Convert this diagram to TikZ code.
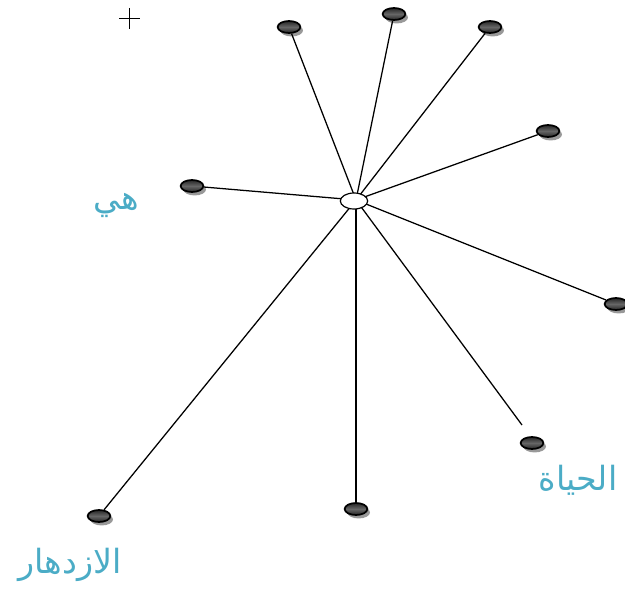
\documentclass[tikz,border=0pt]{standalone}
\usepackage{fontspec}
\newfontfamily\arabicfont[Script=Arabic]{DejaVu Sans}
\TeXXeTstate=1
\usetikzlibrary{shapes.geometric,shadows}
\definecolor{labelblue}{RGB}{75,172,198}
\tikzset{
  px/.style={x=0.75pt,y=-0.75pt},
  dot/.style={ellipse,draw=black,line width=1.3pt,minimum width=17pt,minimum height=9pt,inner sep=0pt,
    top color=black!85,bottom color=black!85,middle color=black!60,
    drop shadow={shadow xshift=2pt,shadow yshift=-2.6pt,fill=black!40,opacity=1}},
  hub/.style={ellipse,draw=black,line width=0.9pt,fill=white,minimum width=20.5pt,minimum height=12pt,inner sep=0pt},
  spoke/.style={draw=black,line width=0.95pt},
  arlabel/.style={text=labelblue,font=\arabicfont\fontsize{25pt}{28pt}\selectfont,inner sep=0pt},
}
\begin{document}
\begin{tikzpicture}[px]
\useasboundingbox (0,0) rectangle (625,592);
% cross marker
\draw[line width=0.7pt] (119,18) -- (140,18) (129,8) -- (129,29);
% outer dots
\node[dot] (n1) at (289,27) {};
\node[dot] (n2) at (394,14) {};
\node[dot] (n3) at (490,27) {};
\node[dot] (n4) at (548,131) {};
\node[dot] (n5) at (616,304) {};
\node[dot] (n6) at (532,443) {};
\node[dot] (n7) at (356,509) {};
\node[dot] (n8) at (99,516) {};
\node[dot] (n9) at (192,186) {};
\coordinate (e6) at (522,425);
\coordinate (hc) at (356,200);
% spokes
\foreach \t in {n1,n2,n3,n4,n5,n7,n8,n9} \draw[spoke] (hc) -- (\t);
\draw[spoke] (hc) -- (e6);
% hub
\node[hub] (hub) at (354,201) {};
% labels
\node[arlabel] (l1) at (116,205) {\beginR هي\endR};
\node[arlabel] (l2) at (578,480) {\beginR الحياة\endR};
\node[arlabel] (l3) at (70,565) {\beginR الازدهار\endR};
\end{tikzpicture}
\end{document}
